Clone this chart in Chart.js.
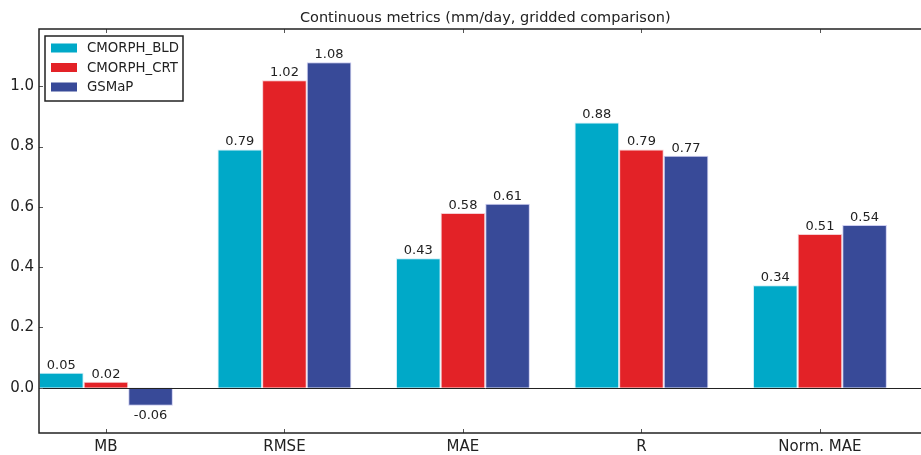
<!DOCTYPE html>
<html>
<head>
<meta charset="utf-8">
<script src="https://cdn.jsdelivr.net/npm/chart.js@4/dist/chart.umd.min.js"></script>
<style>
  html, body { margin: 0; padding: 0; background: #fff; overflow: hidden; }
  #wrap { width: 960px; height: 455px; }
</style>
</head>
<body>
<div id="wrap"><canvas id="metrics_chart"></canvas></div>
<script>
const categories = ['MB', 'RMSE', 'MAE', 'R', 'Norm. MAE'];
const bld_values = [0.05, 0.79, 0.43, 0.88, 0.34];
const crt_values = [0.02, 1.02, 0.58, 0.79, 0.51];
const gsmap_values = [-0.06, 1.08, 0.61, 0.77, 0.54];
const y_ticks = [0.0, 0.2, 0.4, 0.6, 0.8, 1.0];
const chart_title = 'Continuous metrics (mm/day, gridded comparison)';

const FONT = '"DejaVu Sans", sans-serif';
const INK = '#222';

const bar_settings = {
	borderWidth: 1,
	categoryPercentage: 0.75,
	barPercentage: 1.0,
}

function to_points(values) {
	return values.map((v, i) => ({ x: i, y: v }));
}

// frame, inward tick marks, zero line, value labels, legend and title
const decorations = {
	id: 'decorations',
	afterDatasetsDraw(chart) {
		const ctx = chart.ctx;
		const area = chart.chartArea;
		const xs = chart.scales.x;
		const ys = chart.scales.y;
		ctx.save();

		// zero line
		const y0 = Math.round(ys.getPixelForValue(0)) + 0.5;
		ctx.strokeStyle = INK;
		ctx.lineWidth = 1;
		ctx.beginPath();
		ctx.moveTo(area.left, y0);
		ctx.lineTo(area.right, y0);
		ctx.stroke();

		// tick marks pointing inward
		ctx.strokeStyle = '#555';
		ctx.lineWidth = 1;
		ctx.beginPath();
		categories.forEach((c, i) => {
			const px = Math.round(xs.getPixelForValue(i)) + 0.5;
			ctx.moveTo(px, area.bottom);
			ctx.lineTo(px, area.bottom - 4);
			ctx.moveTo(px, area.top);
			ctx.lineTo(px, area.top + 4);
		});
		y_ticks.forEach(v => {
			const py = Math.round(ys.getPixelForValue(v)) + 0.5;
			ctx.moveTo(area.left, py);
			ctx.lineTo(area.left + 4, py);
			ctx.moveTo(area.right, py);
			ctx.lineTo(area.right - 4, py);
		});
		ctx.stroke();

		// frame
		ctx.strokeStyle = INK;
		ctx.lineWidth = 1.5;
		ctx.strokeRect(area.left, area.top, area.right - area.left, area.bottom - area.top);

		// value labels
		ctx.fillStyle = INK;
		ctx.font = '13px ' + FONT;
		ctx.textAlign = 'center';
		chart.data.datasets.forEach((ds, di) => {
			const meta = chart.getDatasetMeta(di);
			meta.data.forEach((bar, i) => {
				const v = ds.data[i].y;
				const label = v.toFixed(2);
				if (v >= 0) {
					ctx.textBaseline = 'bottom';
					ctx.fillText(label, bar.x, bar.y - 1);
				} else {
					ctx.textBaseline = 'top';
					ctx.fillText(label, bar.x, bar.y + 3);
				}
			});
		});

		// legend
		const lx = 45, ly = 36, lw = 138, lh = 65;
		ctx.fillStyle = '#fff';
		ctx.fillRect(lx, ly, lw, lh);
		ctx.strokeStyle = INK;
		ctx.lineWidth = 1.5;
		ctx.strokeRect(lx, ly, lw, lh);
		ctx.font = '13.3px ' + FONT;
		ctx.textAlign = 'left';
		ctx.textBaseline = 'middle';
		chart.data.datasets.forEach((ds, di) => {
			const cy = ly + 12 + di * 19.5;
			ctx.fillStyle = ds.backgroundColor;
			ctx.fillRect(lx + 6, cy - 4.5, 26, 9);
			ctx.fillStyle = INK;
			ctx.fillText(ds.label, lx + 42, cy + 1);
		});

		// title
		ctx.font = '14.5px ' + FONT;
		ctx.textAlign = 'center';
		ctx.textBaseline = 'alphabetic';
		ctx.fillStyle = INK;
		ctx.fillText(chart_title, (area.left + area.right) / 2, 22);

		ctx.restore();
	}
}

const chart_data = {
	datasets: [{
		label: 'CMORPH_BLD',
		data: to_points(bld_values),
		backgroundColor: 'rgb(0, 169, 200)',
		borderColor: 'rgba(200, 235, 245, 0.9)',
		...bar_settings
	}, {
		label: 'CMORPH_CRT',
		data: to_points(crt_values),
		backgroundColor: 'rgb(227, 34, 39)',
		borderColor: 'rgba(245, 200, 205, 0.9)',
		...bar_settings
	}, {
		label: 'GSMaP',
		data: to_points(gsmap_values),
		backgroundColor: 'rgb(56, 74, 152)',
		borderColor: 'rgba(200, 200, 240, 0.9)',
		...bar_settings
	}]
}

const options = {
	responsive: true,
	maintainAspectRatio: false,
	animation: false,
	layout: {
		padding: { top: 29, left: 0, right: 28.5, bottom: 0 }
	},
	scales: {
		x: {
			type: 'linear',
			min: -0.375,
			max: 4.625,
			offset: false,
			grid: { display: false, drawTicks: false },
			border: { display: false },
			afterBuildTicks: (scale) => {
				scale.ticks = categories.map((c, i) => ({ value: i }));
			},
			afterFit: (scale) => { scale.height = 22; },
			ticks: {
				autoSkip: false,
				maxRotation: 0,
				padding: 5,
				color: INK,
				font: { family: FONT, size: 15 },
				callback: (val) => categories[val]
			}
		},
		y: {
			min: -0.15,
			max: 1.19,
			grid: { display: false, drawTicks: false },
			border: { display: false },
			afterBuildTicks: (scale) => {
				scale.ticks = y_ticks.map(v => ({ value: v }));
			},
			afterFit: (scale) => { scale.width = 39; },
			ticks: {
				padding: 5,
				color: INK,
				font: { family: FONT, size: 15 },
				callback: (val) => val.toFixed(1)
			}
		}
	},
	plugins: {
		legend: { display: false },
		title: { display: false },
		tooltip: { enabled: false }
	}
}

new Chart(document.getElementById('metrics_chart').getContext('2d'), {
	type: 'bar',
	data: chart_data,
	options: options,
	plugins: [decorations]
});
</script>
</body>
</html>
